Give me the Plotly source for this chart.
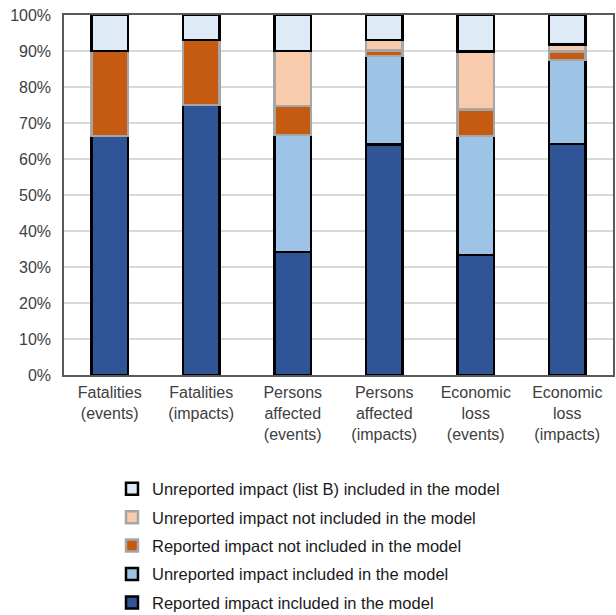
import plotly.graph_objects as go

categories = [
    "Fatalities<br>(events)",
    "Fatalities<br>(impacts)",
    "Persons<br>affected<br>(events)",
    "Persons<br>affected<br>(impacts)",
    "Economic<br>loss<br>(events)",
    "Economic<br>loss<br>(impacts)",
]

# Shares (%) per category, stacked bottom to top (None = no segment)
reported_included = [66.4, 75.0, 34.2, 64.0, 33.3, 64.2]
unreported_included = [None, None, 32.5, 24.6, 33.1, 23.3]
reported_not_included = [23.6, 18.0, 8.0, 1.6, 7.4, 2.3]
unreported_not_included = [None, None, 15.3, 2.8, 16.0, 2.0]
unreported_listb_included = [10.0, 7.0, 10.0, 7.0, 10.2, 8.2]

series = [
    ("Reported impact included in the model", reported_included, "#2f5597", "#000000"),
    ("Unreported impact included in the model", unreported_included, "#9dc3e6", "#000000"),
    ("Reported impact not included in the model", reported_not_included, "#c55a11", "#a6a6a6"),
    ("Unreported impact not included in the model", unreported_not_included, "#f8cbad", "#a6a6a6"),
    ("Unreported impact (list B) included in the model", unreported_listb_included, "#deebf7", "#000000"),
]

fig = go.Figure()
for i, (name, vals, color, edge) in enumerate(series):
    fig.add_trace(go.Bar(
        x=categories, y=vals, name=name,
        marker=dict(color=color, line=dict(color=edge, width=2.5)),
        width=0.4, legendgroup=str(i), legendrank=len(series) - i,
    ))

fig.update_layout(
    barmode="stack",
    width=616, height=615,
    margin=dict(l=64, r=3, t=15, b=240, autoexpand=False),
    paper_bgcolor="white", plot_bgcolor="white",
    font=dict(family="Liberation Sans, Arial, sans-serif", size=16, color="#404040"),
    showlegend=True,
    legend=dict(
        orientation="v", traceorder="grouped", tracegroupgap=4,
        x=0.0874, xanchor="left", y=-0.268, yanchor="top",
        font=dict(size=16.5, color="#1a1a1a"),
        itemwidth=30,
    ),
    xaxis=dict(
        showline=True, linecolor="#595959", linewidth=1.5, mirror=True,
        ticks="", tickfont=dict(size=16, color="#404040"),
        ticklabelstandoff=2, automargin=False,
    ),
    yaxis=dict(
        range=[0, 100], dtick=10, ticksuffix="%",
        showgrid=True, gridcolor="#d9d9d9", gridwidth=1.5,
        showline=True, linecolor="#595959", linewidth=1.5, mirror=True,
        zeroline=False, tickfont=dict(size=16, color="#404040"),
        ticklabelstandoff=8, automargin=False,
    ),
    bargap=0.6,
)

fig.write_html("out.html")
